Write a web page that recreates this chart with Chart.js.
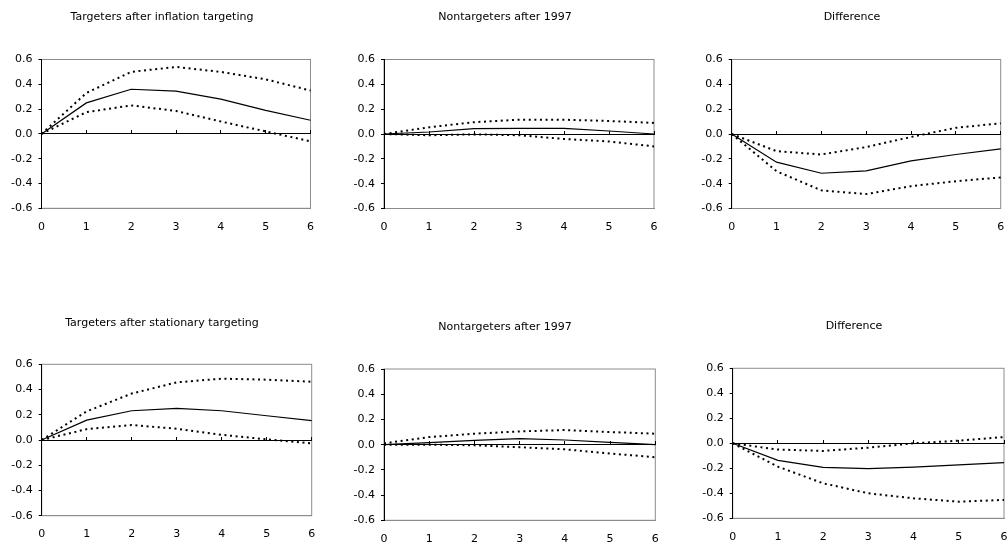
<!DOCTYPE html>
<html lang="en">

<head>
  <meta charset="UTF-8">
  <title>Impulse responses</title>

  <script src="https://cdn.jsdelivr.net/npm/chart.js@4.4.0/dist/chart.umd.min.js"></script>

  <style>
    html, body {
      margin: 0;
      padding: 0;
      background: #fff;
      overflow: hidden;
    }

    .panel {
      position: absolute;
    }
  </style>
</head>

<body>

  <script>
    // horizon (x) and y axis ticks
    const steps = [0, 1, 2, 3, 4, 5, 6];
    const yTicks = [-0.6, -0.4, -0.2, 0, 0.2, 0.4, 0.6];

    // top row
    const itMean = [0, 0.25, 0.36, 0.345, 0.28, 0.19, 0.11];
    const itUpper = [0, 0.33, 0.50, 0.54, 0.50, 0.44, 0.35];
    const itLower = [0, 0.175, 0.23, 0.185, 0.10, 0.02, -0.06];

    const nt1Mean = [0, 0.016, 0.043, 0.046, 0.046, 0.024, 0];
    const nt1Upper = [0, 0.054, 0.095, 0.115, 0.115, 0.105, 0.089];
    const nt1Lower = [0, -0.01, -0.003, -0.01, -0.04, -0.06, -0.10];

    const diff1Mean = [0, -0.227, -0.316, -0.297, -0.216, -0.165, -0.12];
    const diff1Upper = [0, -0.138, -0.165, -0.105, -0.024, 0.05, 0.086];
    const diff1Lower = [0, -0.30, -0.454, -0.484, -0.42, -0.38, -0.35];

    // bottom row
    const stMean = [0, 0.157, 0.232, 0.251, 0.232, 0.192, 0.154];
    const stUpper = [0, 0.227, 0.368, 0.457, 0.486, 0.478, 0.462];
    const stLower = [0, 0.086, 0.119, 0.089, 0.041, 0.005, -0.027];

    const nt2Mean = [0, 0.016, 0.034, 0.047, 0.037, 0.018, 0];
    const nt2Upper = [0.01, 0.06, 0.087, 0.105, 0.116, 0.10, 0.087];
    const nt2Lower = [0, 0, -0.005, -0.02, -0.037, -0.07, -0.10];

    const diff2Mean = [0, -0.136, -0.192, -0.203, -0.19, -0.173, -0.155];
    const diff2Upper = [0, -0.05, -0.061, -0.035, 0, 0.021, 0.05];
    const diff2Lower = [0, -0.187, -0.32, -0.40, -0.44, -0.467, -0.453];

    const FONT = { family: '"DejaVu Sans", sans-serif', size: 11 };

    // plot box (page px) and title centre for each panel
    const panels = [
      { title: 'Targeters after inflation targeting', box: [41.5, 310.5, 59.5, 208.3], tx: 162, ty: 17, series: [itMean, itUpper, itLower] },
      { title: 'Nontargeters after 1997', box: [384, 654, 59.5, 208.5], tx: 505, ty: 17, series: [nt1Mean, nt1Upper, nt1Lower] },
      { title: 'Difference', box: [731.7, 1000.7, 59.5, 208.5], tx: 852, ty: 17, series: [diff1Mean, diff1Upper, diff1Lower] },
      { title: 'Targeters after stationary targeting', box: [41.7, 311.7, 364.3, 515.7], tx: 162, ty: 323, series: [stMean, stUpper, stLower] },
      { title: 'Nontargeters after 1997', box: [384, 655.3, 369, 520.3], tx: 505, ty: 327, series: [nt2Mean, nt2Upper, nt2Lower] },
      { title: 'Difference', box: [732.7, 1004, 368.3, 518.3], tx: 854, ty: 326, series: [diff2Mean, diff2Upper, diff2Lower] }
    ];

    // gray frame round the plot, under the axes
    const framePlugin = {
      id: 'frame',
      beforeDraw(chart) {
        const a = chart.chartArea;
        const ctx = chart.ctx;
        ctx.save();
        ctx.strokeStyle = '#8c8c8c';
        ctx.lineWidth = 1;
        ctx.strokeRect(a.left, a.top, a.right - a.left, a.bottom - a.top);
        ctx.restore();
      }
    };

    const titlePlugin = {
      id: 'panelTitle',
      afterDraw(chart, args, opts) {
        const ctx = chart.ctx;
        ctx.save();
        ctx.font = `${FONT.size}px ${FONT.family}`;
        ctx.fillStyle = '#000';
        ctx.textAlign = 'center';
        ctx.textBaseline = 'middle';
        ctx.fillText(opts.text, opts.x, opts.y);
        ctx.restore();
      }
    };

    function dotted(data) {
      return {
        data: data,
        borderColor: '#000',
        borderWidth: 2,
        borderDash: [2, 3.6],
        pointRadius: 0,
        tension: 0
      };
    }

    function createPanel(p) {
      const [l, r, t, b] = p.box;
      const L = Math.round(l - 41);
      const T = Math.round(t - 58);
      const W = Math.min(1008 - L, Math.round(r - L + 6));
      const H = Math.round(b - T + 32);

      const div = document.createElement('div');
      div.className = 'panel';
      div.style.left = L + 'px';
      div.style.top = T + 'px';
      div.style.width = W + 'px';
      div.style.height = H + 'px';
      const canvas = document.createElement('canvas');
      canvas.width = W;
      canvas.height = H;
      div.appendChild(canvas);
      document.body.appendChild(div);

      new Chart(canvas, {
        type: 'line',
        data: {
          labels: steps,
          datasets: [
            { data: p.series[0], borderColor: '#000', borderWidth: 1.2, pointRadius: 0, tension: 0 },
            dotted(p.series[1]),
            dotted(p.series[2])
          ]
        },
        options: {
          responsive: false,
          animation: false,
          devicePixelRatio: 1,
          layout: { autoPadding: false, padding: { top: t - T, right: (L + W) - r, left: 0, bottom: 0 } },
          plugins: {
            legend: { display: false },
            tooltip: { enabled: false },
            panelTitle: { text: p.title, x: p.tx - L, y: p.ty - T }
          },
          scales: {
            x: {
              type: 'category',
              offset: false,
              grid: { display: false, drawTicks: false },
              border: { display: true, color: '#8c8c8c', width: 1 },
              ticks: { color: '#000', font: FONT, padding: 12, maxRotation: 0, autoSkip: false },
              afterFit: s => {
                s.height = (T + H) - b;
                s.paddingLeft = 0;
                s.paddingRight = 0;
              }
            },
            zero: {
              type: 'category',
              axis: 'x',
              offset: false,
              position: { y: 0 },
              grid: { display: true, drawOnChartArea: false, drawTicks: true, tickLength: -4, color: '#000' },
              border: { display: true, color: '#000', width: 1 },
              ticks: { display: false }
            },
            y: {
              min: -0.6,
              max: 0.6,
              grid: { display: true, drawOnChartArea: false, drawTicks: true, tickLength: 3, color: '#000' },
              border: { display: true, color: '#000', width: 1 },
              ticks: {
                color: '#000',
                font: FONT,
                padding: 6,
                callback: v => (Math.abs(v) < 1e-9 ? 0 : v).toFixed(1)
              },
              afterBuildTicks: s => { s.ticks = yTicks.map(v => ({ value: v })); },
              afterFit: s => { s.width = l - L; }
            }
          }
        },
        plugins: [framePlugin, titlePlugin]
      });
    }

    panels.forEach(createPanel);
  </script>
</body>

</html>
